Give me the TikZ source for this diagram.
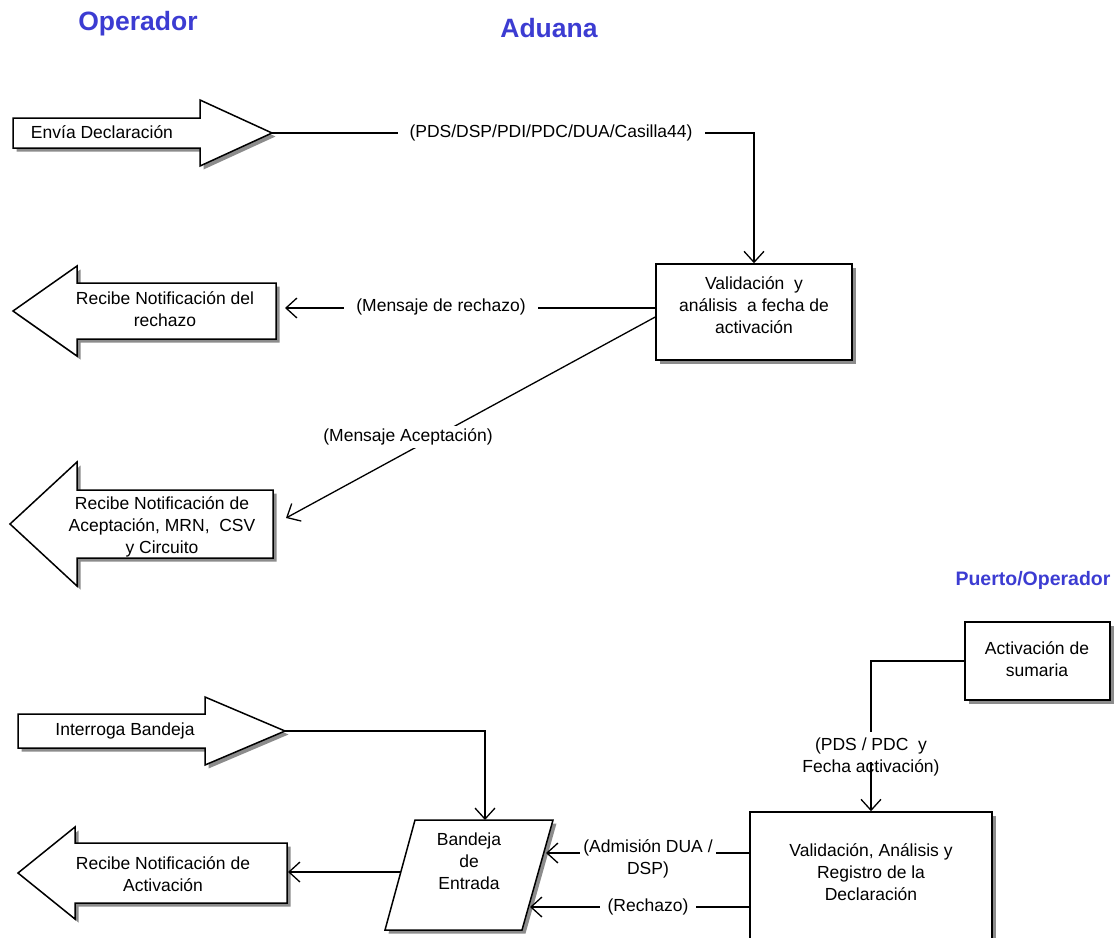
\documentclass[tikz,border=0pt]{standalone}
\usepackage{fontspec}
\setmainfont{Liberation Sans}
\usetikzlibrary{arrows.meta,shadows}
\definecolor{hdr}{RGB}{60,60,210}
\definecolor{shd}{RGB}{140,140,140}
\newcommand\blockarrow[6]{%
  \fill[shd,shift={(3.5,3.5)}] (#1,{#4-#5}) -- (#2,{#4-#5}) -- (#2,{#4-#6}) -- (#3,#4) -- (#2,{#4+#6}) -- (#2,{#4+#5}) -- (#1,{#4+#5}) -- cycle;
  \draw[shapeline] (#1,{#4-#5}) -- (#2,{#4-#5}) -- (#2,{#4-#6}) -- (#3,#4) -- (#2,{#4+#6}) -- (#2,{#4+#5}) -- (#1,{#4+#5}) -- cycle;
}
\begin{document}
\begin{tikzpicture}[x=1pt,y=-1pt,
  lbl/.style={font=\fontsize{17.5}{22}\selectfont, align=center, inner sep=0pt},
  msg/.style={font=\fontsize{17.5}{22}\selectfont, align=center, fill=white, inner xsep=12pt, inner ysep=4pt},
  hd/.style={font=\fontsize{26.5}{30}\selectfont\bfseries, text=hdr},
  box/.style={draw, line width=1.5pt, fill=white, inner sep=0pt, drop shadow={shadow xshift=3.5pt, shadow yshift=-3.5pt, opacity=1, fill=shd}},
  shapeline/.style={draw, line width=1.5pt, fill=white, line join=miter},
  conn/.style={line width=1.3pt},
  arr/.style={conn, -{Straight Barb[length=11pt, width=20pt, line width=1.3pt]}}
]
\useasboundingbox (0,0) rectangle (1116,937);

% headers
\node[hd] (hop) at (138,24) {Operador};
\node[hd] (had) at (549,28) {Aduana};
\node[hd, font=\fontsize{19.5}{22}\selectfont\bfseries] (hpu) at (1033,580) {Puerto/Operador};

% block arrows
\blockarrow{13}{200}{272}{133}{15}{33}
\blockarrow{276}{77}{13}{311}{28}{45}
\blockarrow{273}{77}{10}{524}{34}{62}
\blockarrow{18}{205}{285}{731}{17}{34}
\blockarrow{287}{75}{18}{873}{30}{46}

\node[lbl] (envia) at (102,132) {Envía Declaración};
\node[lbl] (rech) at (165,309) {Recibe Notificación del\\rechazo};
\node[lbl] (acep) at (162,527) {Recibe Notificación de\\Aceptación, MRN,~ CSV\\y Circuito};
\node[lbl] (interr) at (125,731) {Interroga Bandeja};
\node[lbl] (activn) at (163,874) {Recibe Notificación de\\Activación};

\coordinate (enviaTip) at (272,133);
\coordinate (interrTip) at (285,731);
\coordinate (rechIn) at (285,308);
\coordinate (acepIn) at (286,518);
\coordinate (activIn) at (288,872);

% boxes
\node[box, minimum width=196, minimum height=96] (valid1) at (754,312) {};
\node[lbl] (valid1t) at (754,305) {Validación~ y\\análisis~ a fecha de\\activación};
\node[box, minimum width=145, minimum height=78] (activ) at (1037.5,661) {};
\node[lbl] (activt) at (1037,659) {Activación de\\sumaria};
\node[box, minimum width=242, minimum height=160] (valid2) at (871,892) {};
\node[lbl] (valid2t) at (871,872) {Validación, Análisis y\\Registro de la\\Declaración};

% bandeja
\fill[shd,shift={(3.5,3.5)}] (415,820) -- (553,820) -- (522,930) -- (385,930) -- cycle;
\draw[shapeline] (415,820) -- (553,820) -- (522,930) -- (385,930) -- cycle;
\node[lbl] (bandeja) at (469,861) {Bandeja\\de\\Entrada};
\coordinate (bandTop) at (485,820);
\coordinate (bandL) at (401,872);
\coordinate (bandR1) at (546,853);
\coordinate (bandR2) at (530,907);

% connectors
\draw[arr] (enviaTip) -| (valid1.north);
\node[msg] (m1) at (551,133) {(PDS/DSP/PDI/PDC/DUA/Casilla44)};

\draw[arr] (valid1.west |- rechIn) -- (rechIn);
\node[msg] (m2) at (441,307) {(Mensaje de rechazo)};

\draw[arr] ([yshift=-5pt]valid1.west) -- (acepIn);
\node[msg, inner xsep=4pt, inner ysep=3pt] (m3) at (408,437) {(Mensaje Aceptación)};

\draw[arr] (interrTip) -| (bandTop);
\draw[arr] (bandL) -- (activIn);

\coordinate (pdsA) at (871,732);
\coordinate (pdsB) at (871,762);
\draw[conn] (activ.west) -| (pdsA);
\node[lbl] (m4) at (871,757) {(PDS / PDC~ y\\Fecha activación)};
\draw[arr] (pdsB) -- (valid2.north);

\draw[arr] (valid2.west |- bandR1) -- (bandR1);
\node[msg, inner xsep=3pt, inner ysep=2pt] (m5) at (648,859) {(Admisión DUA /\\DSP)};

\draw[arr] (valid2.west |- bandR2) -- (bandR2);
\node[msg, inner xsep=8pt, inner ysep=2pt] (m6) at (648,907) {(Rechazo)};
\end{tikzpicture}
\end{document}
